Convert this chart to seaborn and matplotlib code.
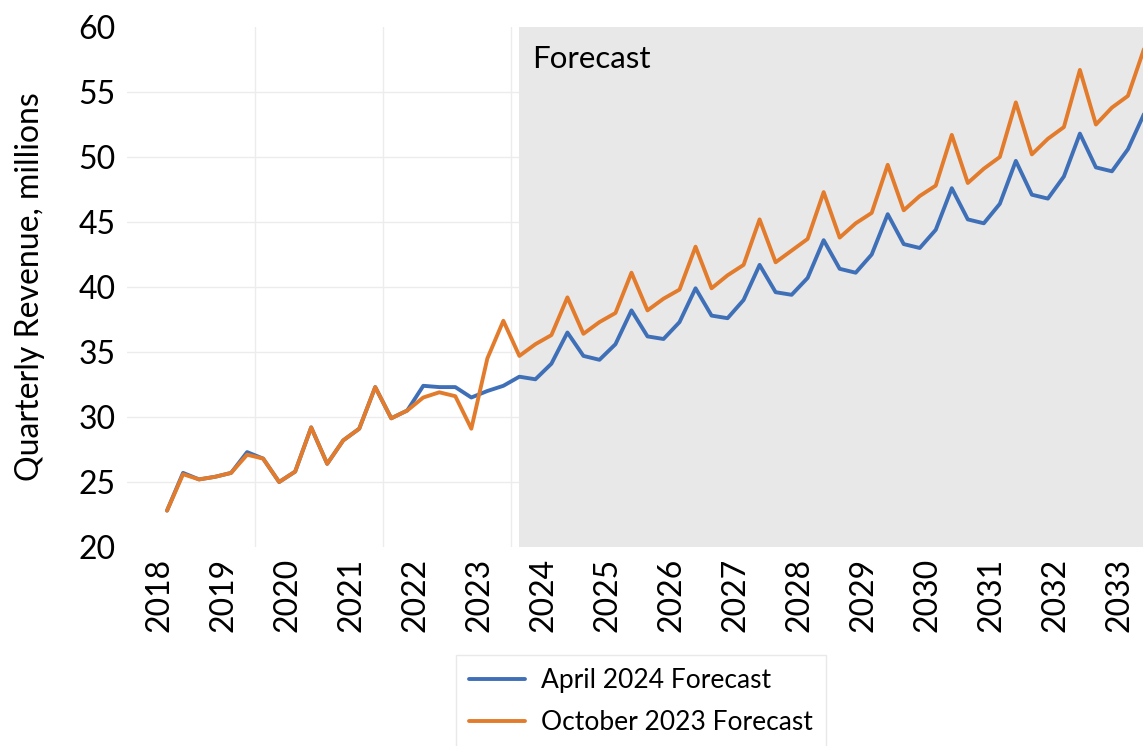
import numpy as np
import pandas as pd
import matplotlib
matplotlib.use("Agg")
import matplotlib.pyplot as plt
import seaborn as sns

# === Data (quarterly, first point = 2018 Q3) ===
start_year = 2018.5
april_2024 = [22.8, 25.7, 25.2, 25.4, 25.7, 27.3, 26.8, 25.0, 25.8, 29.2,
              26.4, 28.2, 29.1, 32.3, 29.9, 30.5, 32.4, 32.3, 32.3, 31.5,
              32.0, 32.4, 33.1, 32.9, 34.1, 36.5, 34.7, 34.4, 35.6, 38.2,
              36.2, 36.0, 37.3, 39.9, 37.8, 37.6, 39.0, 41.7, 39.6, 39.4,
              40.7, 43.6, 41.4, 41.1, 42.5, 45.6, 43.3, 43.0, 44.4, 47.6,
              45.2, 44.9, 46.4, 49.7, 47.1, 46.8, 48.5, 51.8, 49.2, 48.9,
              50.6, 53.3]
october_2023 = [22.8, 25.6, 25.2, 25.4, 25.7, 27.1, 26.8, 25.0, 25.8, 29.2,
                26.4, 28.2, 29.1, 32.3, 29.9, 30.5, 31.5, 31.9, 31.6, 29.1,
                34.5, 37.4, 34.7, 35.6, 36.3, 39.2, 36.4, 37.3, 38.0, 41.1,
                38.2, 39.1, 39.8, 43.1, 39.9, 40.9, 41.7, 45.2, 41.9, 42.8,
                43.7, 47.3, 43.8, 44.9, 45.7, 49.4, 45.9, 47.0, 47.8, 51.7,
                48.0, 49.1, 50.0, 54.2, 50.2, 51.4, 52.3, 56.7, 52.5, 53.8,
                54.7, 58.3]
years = list(range(2018, 2034))
forecast_start = 2024.0
series_names = ["April 2024 Forecast", "October 2023 Forecast"]
colors = ["#3F70B7", "#E27C2C"]

quarters = start_year + np.arange(len(april_2024)) / 4
df = pd.DataFrame({
    "t": np.concatenate([quarters, quarters]),
    "value": april_2024 + october_2023,
    "series": [series_names[0]] * len(april_2024) + [series_names[1]] * len(october_2023),
})

sns.set_theme(style="white")
plt.rcParams["font.family"] = ["Lato", "DejaVu Sans"]
plt.rcParams["text.color"] = "black"
plt.rcParams["xtick.color"] = "black"
plt.rcParams["ytick.color"] = "black"
plt.rcParams["axes.labelcolor"] = "black"

fig = plt.figure(figsize=(11.43, 7.46), dpi=100)
ax = fig.add_axes([127 / 1143, 1 - 547 / 746, 1 - 127 / 1143, 520 / 746])

x_left, x_right = 2017.875, 2033.735
ax.set_xlim(x_left, x_right)
ax.set_ylim(20, 60)

# grid (drawn under the forecast shading)
for yv in range(25, 60, 5):
    ax.axhline(yv, color="#ECECEC", lw=1, zorder=0)
for xv in np.arange(x_left + 2, x_right, 2):
    ax.axvline(xv, color="#ECECEC", lw=1, zorder=0)

ax.axvspan(forecast_start, x_right, color="#E8E8E8", lw=0, zorder=1)
ax.text(forecast_start + 0.2, 57.5, "Forecast", fontsize=22.5, va="center", ha="left", zorder=3)

sns.lineplot(data=df, x="t", y="value", hue="series", palette=colors,
             linewidth=2.8, ax=ax, legend=False, zorder=2)

ax.set_xticks([y + 0.375 for y in years])
ax.set_xticklabels([str(y) for y in years], rotation=90, fontsize=23)
ax.set_yticks(range(20, 61, 5))
ax.set_yticklabels([str(v) for v in range(20, 61, 5)], fontsize=23)
ax.tick_params(axis="both", length=0, pad=8)
ax.set_xlabel("")
ax.set_ylabel("Quarterly Revenue, millions", fontsize=23, labelpad=24)
for s in ax.spines.values():
    s.set_visible(False)

handles = [plt.Line2D([], [], color=c, lw=2.8) for c in colors]
leg = fig.legend(handles, series_names, loc="upper center",
                 bbox_to_anchor=(641 / 1143, 1 - 655 / 746), fontsize=19,
                 frameon=True, fancybox=False, edgecolor="#E4E4E4",
                 handlelength=2.1, handletextpad=0.6, labelspacing=0.65,
                 borderpad=0.5, borderaxespad=0)
leg.get_frame().set_linewidth(1)

fig.savefig("out.png", dpi=100)
